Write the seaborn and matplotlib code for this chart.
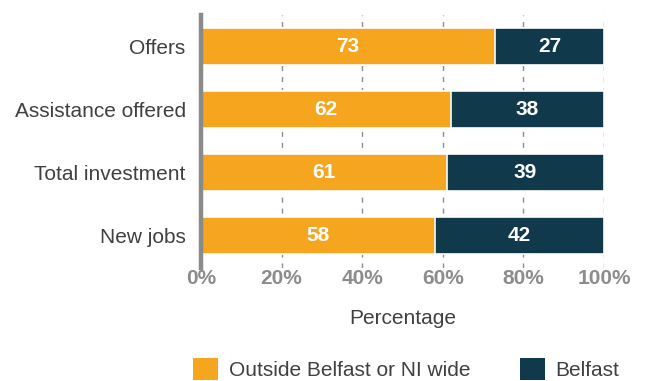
import matplotlib
matplotlib.use("Agg")
import matplotlib.pyplot as plt
import seaborn as sns
import pandas as pd
from matplotlib.patches import Patch

categories = ["Offers", "Assistance offered", "Total investment", "New jobs"]
outside_belfast = [73, 62, 61, 58]
belfast = [27, 38, 39, 42]
x_ticks = [0, 20, 40, 60, 80, 100]
x_tick_labels = ["0%", "20%", "40%", "60%", "80%", "100%"]
series_names = ["Outside Belfast or NI wide", "Belfast"]

ORANGE = "#F6A51F"
NAVY = "#10394C"
GRID = "#8C8C8C"

sns.set_theme(style="white")
plt.rcParams["font.family"] = ["Liberation Sans", "DejaVu Sans"]

df = pd.DataFrame({
    "category": categories,
    "outside": outside_belfast,
    "belfast": belfast,
})
df["total"] = df["outside"] + df["belfast"]

fig = plt.figure(figsize=(6.45, 3.81), dpi=100)
ax = fig.add_axes([201 / 645, 1 - 268 / 381, 403 / 645, 253 / 381])

# stacked bars: full-length Belfast bar underneath, outside segment on top
sns.barplot(data=df, x="total", y="category", orient="h", color=NAVY,
            saturation=1, width=0.58, edgecolor="white", linewidth=1.2,
            ax=ax, zorder=3)
sns.barplot(data=df, x="outside", y="category", orient="h", color=ORANGE,
            saturation=1, width=0.58, edgecolor="white", linewidth=1.2,
            ax=ax, zorder=4)

# segment value labels
for i, row in df.iterrows():
    ax.text(row["outside"] / 2, i, f"{row['outside']}", ha="center", va="center",
            color="white", fontsize=15, fontweight="bold", zorder=5)
    ax.text(row["outside"] + row["belfast"] / 2, i, f"{row['belfast']}",
            ha="center", va="center", color="white", fontsize=15,
            fontweight="bold", zorder=5)

ax.set_xlim(0, 100)
ax.set_ylim(3.52, -0.5)
ax.set_xticks(x_ticks)
ax.set_xticklabels(x_tick_labels)
ax.xaxis.grid(True, color=GRID, linewidth=1.0, linestyle=(0, (3.6, 4.3)), zorder=0)
ax.yaxis.grid(False)
ax.set_axisbelow(True)

for side in ["top", "right", "bottom"]:
    ax.spines[side].set_visible(False)
ax.spines["left"].set_color("#8A8A8A")
ax.spines["left"].set_linewidth(3.2)
ax.spines["left"].set_zorder(6)

ax.tick_params(axis="x", length=0, pad=1, labelsize=15, labelcolor="#8C8C8C")
for lbl in ax.get_xticklabels():
    lbl.set_fontweight("bold")
ax.tick_params(axis="y", length=0, pad=11, labelsize=15, labelcolor="#404040")
ax.set_ylabel("")
ax.set_xlabel("Percentage", fontsize=15, color="#404040", labelpad=15)

handles = [Patch(facecolor=ORANGE, edgecolor="none"),
           Patch(facecolor=NAVY, edgecolor="none")]
fig.legend(handles, series_names, loc="center", bbox_to_anchor=(0.630, 1 - 369 / 381),
           ncol=2, frameon=False, fontsize=15, handlelength=1.2, handleheight=1.2,
           handletextpad=0.5, columnspacing=2.4, borderpad=0, labelcolor="#404040")

fig.savefig("out.png", dpi=100)
